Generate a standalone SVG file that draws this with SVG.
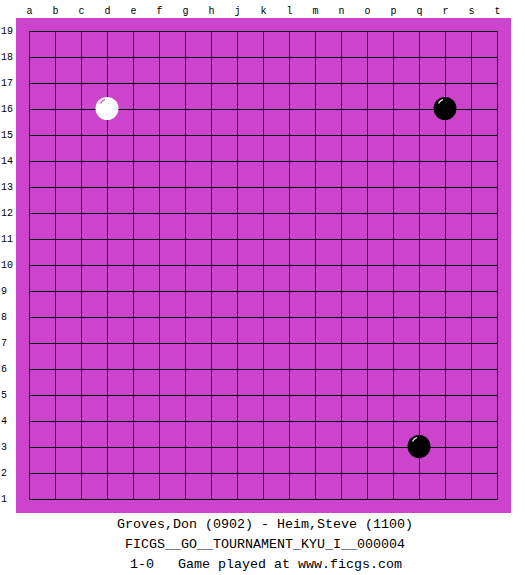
<svg xmlns="http://www.w3.org/2000/svg" width="525" height="575" viewBox="0 0 525 575">
<style>
.lbl{font-family:"Liberation Mono","DejaVu Sans Mono",monospace;font-size:10px;fill:#000}
.col{text-anchor:middle}
.info{font-family:"Liberation Mono","DejaVu Sans Mono",monospace;font-size:13.33px;fill:#000;text-anchor:middle}
.grid{stroke:#000;stroke-width:1;fill:none}
</style>
<rect width="525" height="575" fill="#fff"/>
<g id="board">
<rect x="16" y="18" width="495" height="495" fill="#cc44cc"/>
</g>
<g id="grid" class="grid">
<path d="M29.5 31.5V499.5M55.5 31.5V499.5M81.5 31.5V499.5M107.5 31.5V499.5M133.5 31.5V499.5M159.5 31.5V499.5M185.5 31.5V499.5M211.5 31.5V499.5M237.5 31.5V499.5M263.5 31.5V499.5M289.5 31.5V499.5M315.5 31.5V499.5M341.5 31.5V499.5M367.5 31.5V499.5M393.5 31.5V499.5M419.5 31.5V499.5M445.5 31.5V499.5M471.5 31.5V499.5M497.5 31.5V499.5"/>
<path d="M29.5 31.5H497.5M29.5 57.5H497.5M29.5 83.5H497.5M29.5 109.5H497.5M29.5 135.5H497.5M29.5 161.5H497.5M29.5 187.5H497.5M29.5 213.5H497.5M29.5 239.5H497.5M29.5 265.5H497.5M29.5 291.5H497.5M29.5 317.5H497.5M29.5 343.5H497.5M29.5 369.5H497.5M29.5 395.5H497.5M29.5 421.5H497.5M29.5 447.5H497.5M29.5 473.5H497.5M29.5 499.5H497.5"/>
</g>
<g id="col-labels" class="lbl col">
<text x="29.5" y="14">a</text><text x="55.5" y="14">b</text><text x="81.5" y="14">c</text><text x="107.5" y="14">d</text><text x="133.5" y="14">e</text><text x="159.5" y="14">f</text><text x="185.5" y="14">g</text><text x="211.5" y="14">h</text><text x="237.5" y="14">j</text><text x="263.5" y="14">k</text><text x="289.5" y="14">l</text><text x="315.5" y="14">m</text><text x="341.5" y="14">n</text><text x="367.5" y="14">o</text><text x="393.5" y="14">p</text><text x="419.5" y="14">q</text><text x="445.5" y="14">r</text><text x="471.5" y="14">s</text><text x="497.5" y="14">t</text>
</g>
<g id="row-labels" class="lbl">
<text x="1" y="33.5">19</text><text x="1" y="59.5">18</text><text x="1" y="85.5">17</text><text x="1" y="111.5">16</text><text x="1" y="137.5">15</text><text x="1" y="163.5">14</text><text x="1" y="189.5">13</text><text x="1" y="215.5">12</text><text x="1" y="241.5">11</text><text x="1" y="267.5">10</text><text x="1" y="293.5">9</text><text x="1" y="319.5">8</text><text x="1" y="345.5">7</text><text x="1" y="371.5">6</text><text x="1" y="397.5">5</text><text x="1" y="423.5">4</text><text x="1" y="449.5">3</text><text x="1" y="475.5">2</text><text x="1" y="501.5">1</text>
</g>
<g id="stone-d16">
<circle cx="107" cy="108.5" r="11.5" fill="#fff"/>
<path d="M100.5 103.5Q102 100.5 105 99.5" stroke="#cc44cc" stroke-width="1.2" fill="none"/>
</g>
<g id="stone-r16">
<circle cx="445" cy="108.5" r="11.5" fill="#000"/>
<path d="M438.5 103.5Q440 100.5 443 99.5" stroke="#fff" stroke-width="1.2" fill="none"/>
</g>
<g id="stone-q3">
<circle cx="419" cy="446.5" r="11.5" fill="#000"/>
<path d="M412.5 441.5Q414 438.5 417 437.5" stroke="#fff" stroke-width="1.2" fill="none"/>
</g>
<g id="info">
<text class="info" x="265" y="528">Groves,Don (0902) - Heim,Steve (1100)</text>
<text class="info" x="265" y="548">FICGS__GO__TOURNAMENT_KYU_I__000004</text>
<text class="info" x="266" y="568" xml:space="preserve">1-0   Game played at www.ficgs.com</text>
</g>
</svg>
